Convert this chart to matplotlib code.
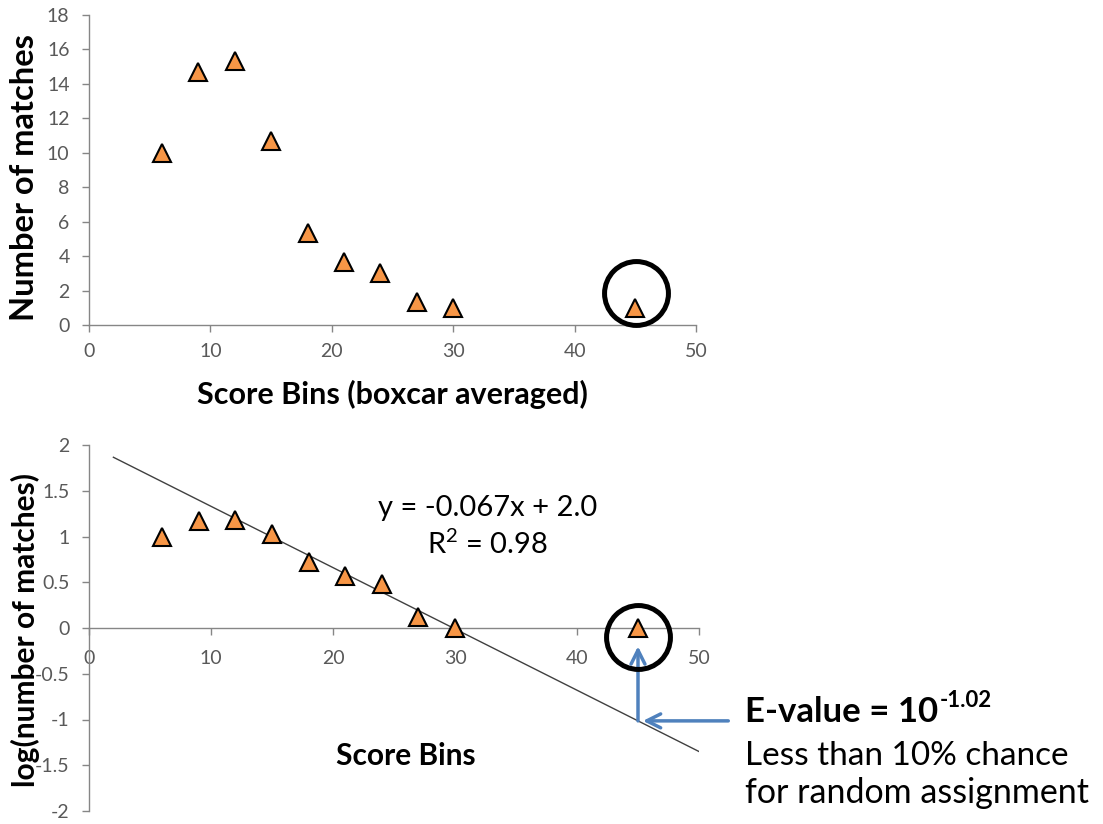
import numpy as np
import matplotlib
matplotlib.use("Agg")
import matplotlib.pyplot as plt

plt.rcParams['font.family'] = ['Lato', 'DejaVu Sans']
plt.rcParams['mathtext.default'] = 'regular'
plt.rcParams['axes.unicode_minus'] = False

# boxcar-averaged score bins and match counts
score_bins = [6, 9, 12, 15, 18, 21, 24, 27, 30, 45]
matches = [10.0, 14.67, 15.33, 10.67, 5.33, 3.67, 3.0, 1.33, 1.0, 1.0]
log_matches = np.log10(matches)

# linear fit reported on the log plot
fit_slope = -0.067
fit_intercept = 2.0
fit_r2 = 0.98
fit_x = [2, 50]
evalue_x = 45

orange = '#F79646'
blue = '#4F81BD'
axis_gray = '#868686'
tick_gray = '#595959'

W, H = 1103, 824
fig = plt.figure(figsize=(W / 100, H / 100), dpi=100)


def style_axes(ax):
    for side in ('top', 'right'):
        ax.spines[side].set_visible(False)
    for side in ('left', 'bottom'):
        ax.spines[side].set_color(axis_gray)
        ax.spines[side].set_linewidth(1)
    ax.tick_params(direction='out', length=5, width=1, color=axis_gray,
                   labelcolor=tick_gray, labelsize=14)
    ax.tick_params(axis='y', pad=9)


def triangles(ax, x, y):
    ax.plot(x, y, linestyle='none', marker='^', markersize=12.5,
            markerfacecolor=orange, markeredgecolor='black',
            markeredgewidth=1.5, clip_on=False, zorder=3)


def ring(ax, x, y):
    ax.plot([x], [y], marker='o', markersize=46, markerfacecolor='none',
            markeredgecolor='black', markeredgewidth=3.6, clip_on=False,
            zorder=4)


# top: raw counts
ax1 = fig.add_axes([89 / W, 1 - 325 / H, 607 / W, 310 / H])
style_axes(ax1)
triangles(ax1, score_bins, matches)
ax1.set_xlim(0, 50)
ax1.set_ylim(0, 18)
ax1.set_xticks(range(0, 51, 10))
ax1.set_yticks(range(0, 19, 2))
ax1.tick_params(axis='x', pad=8)
ax1.set_xlabel('Score Bins (boxcar averaged)', fontsize=22, fontweight='bold',
               labelpad=14)
ring(ax1, evalue_x + 0.05, 1.86)
fig.text(25 / W, 1 - 178 / H, 'Number of matches', fontsize=23.5,
         fontweight='bold', rotation=90, ha='center', va='center')

# bottom: log counts with fit line
ax2 = fig.add_axes([89 / W, 1 - 811 / H, 610 / W, 366 / H])
style_axes(ax2)
ax2.spines['bottom'].set_position(('data', 0))
ax2.plot(fit_x, [fit_slope * x + fit_intercept for x in fit_x],
         color='#404040', linewidth=1, zorder=2)
triangles(ax2, score_bins, log_matches)
ax2.set_xlim(0, 50)
ax2.set_ylim(-2, 2)
ax2.set_xticks(range(0, 51, 10))
ax2.set_yticks(np.arange(-2, 2.01, 0.5))
ax2.set_yticklabels(['-2', '-1.5', '-1', '-0.5', '0', '0.5', '1', '1.5', '2'])
ax2.tick_params(axis='x', pad=11)
fig.text(25 / W, 1 - 630 / H, 'log(number of matches)', fontsize=21.5,
         fontweight='bold', rotation=90, ha='center', va='center')
ax2.text(26.0, -1.40, 'Score Bins', fontsize=21.5, fontweight='bold',
         ha='center', va='center')
ax2.text(32.7, 1.31, 'y = %.3fx + %.1f' % (fit_slope, fit_intercept),
         fontsize=21, ha='center', va='center')
ax2.text(32.7, 0.91, 'R$^2$ = %.2f' % fit_r2, fontsize=21,
         ha='center', va='center')
ring(ax2, evalue_x, -0.1)

# E-value arrows from the fit line at the outlier score
y_fit = fit_slope * evalue_x + fit_intercept
ax2.annotate('', xy=(evalue_x, -0.2), xytext=(evalue_x, y_fit),
             arrowprops=dict(arrowstyle='->', color=blue, lw=2.5,
                             mutation_scale=25, shrinkA=0, shrinkB=0),
             annotation_clip=False)
ax2.annotate('', xy=(evalue_x + 0.4, y_fit), xytext=(52.4, y_fit),
             arrowprops=dict(arrowstyle='->', color=blue, lw=2.5,
                             mutation_scale=25, shrinkA=0, shrinkB=0),
             annotation_clip=False)

# E-value note, exponent placed just after the base text
ev = fig.text(745 / W, 1 - 722 / H, 'E-value = 10', fontsize=25,
              fontweight='bold', ha='left', va='baseline')
ax2.annotate('%.2f' % y_fit, xy=(1, 1), xycoords=ev, xytext=(1, 4),
             textcoords='offset points', fontsize=16, fontweight='bold',
             ha='left', va='top', annotation_clip=False)
fig.text(745 / W, 1 - 765 / H, 'Less than 10% chance', fontsize=24,
         ha='left', va='baseline')
fig.text(745 / W, 1 - 803 / H, 'for random assignment', fontsize=24.5,
         ha='left', va='baseline')

fig.savefig('out.png', dpi=100)
